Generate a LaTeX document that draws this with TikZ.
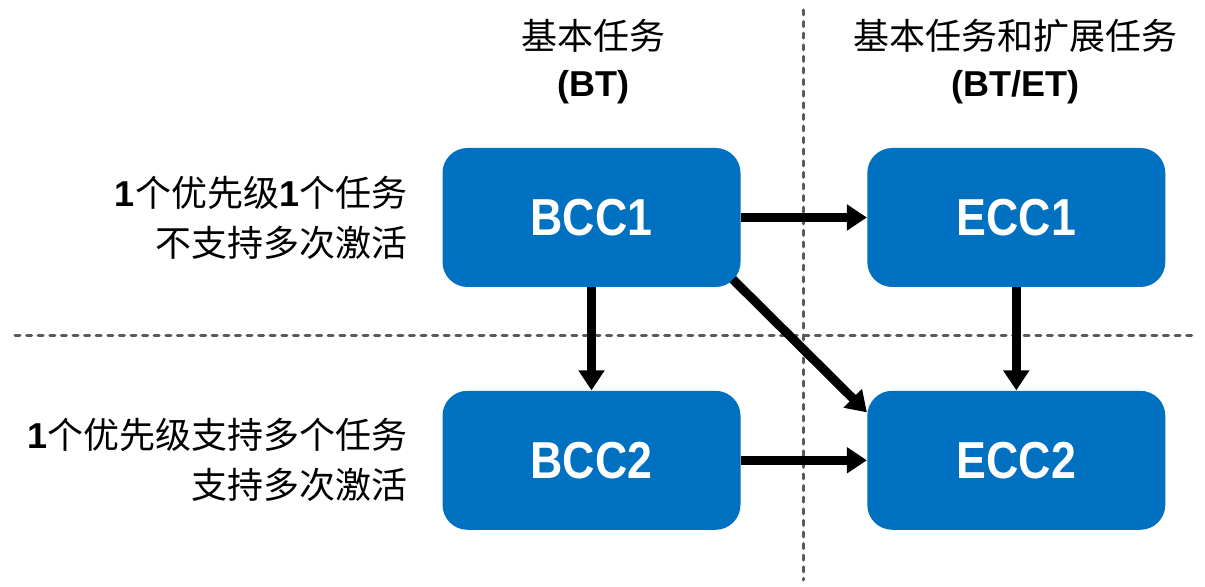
\documentclass[tikz,border=0pt]{standalone}
\usepackage{fontspec}
\setmainfont{Liberation Sans}
\newfontfamily\cjkfont{Noto Sans CJK SC}
\newfontfamily\boxfont[FakeStretch=0.86]{Liberation Sans}
\usetikzlibrary{positioning,arrows.meta,calc}
\definecolor{ccblue}{RGB}{0,112,192}
\definecolor{sepgray}{RGB}{90,90,90}
\newcommand{\bone}{{\normalfont\bfseries 1}}

\begin{document}
\begin{tikzpicture}[
    x=0.5pt, y=-0.5pt,
    node distance=51.5pt and 63pt,
    cc/.style = {fill=ccblue, rounded corners=12.5pt, minimum width=149pt, minimum height=69.5pt,
      text=white, font=\boxfont\bfseries\fontsize{26}{30}\selectfont},
    sep/.style = {draw=sepgray, line width=1.5pt, line cap=round, dash pattern=on 2.5pt off 3.3pt},
    flow/.style = {line width=4.5pt, -{Triangle[length=10pt,width=12.5pt]}},
    head/.style = {align=center, font=\fontsize{18}{23.5}\selectfont},
    side/.style = {align=right, font=\cjkfont\fontsize{18}{25}\selectfont}
  ]
  \useasboundingbox (0,0) rectangle (1205,587);
  % Separators.
  \coordinate (vtop) at (803,10);
  \coordinate (vbot) at (803,580);
  \coordinate (hleft) at (15,336);
  \coordinate (hright) at (1195,336);
  \draw[sep] (vtop) -- (vbot);
  \draw[sep] (hleft) -- (hright);
  % Classes.
  \node[cc] (bcc1) at (591.5,217.5) {BCC1};
  \node[cc, right=of bcc1] (ecc1) {ECC1};
  \node[cc, below=of bcc1] (bcc2) {BCC2};
  \node[cc, below=of ecc1] (ecc2) {ECC2};
  % Headings.
  \node[head] (bthead) at (593,62) {{\cjkfont 基本任务}\\{\bfseries (BT)}};
  \node[head] (ethead) at (1015,62) {{\cjkfont 基本任务和扩展任务}\\{\bfseries (BT/ET)}};
  % Row labels.
  \node[side, left=14pt of bcc1] (row1) {\bone 个优先级\bone 个任务\\不支持多次激活};
  \node[side, left=14pt of bcc2] (row2) {\bone 个优先级支持多个任务\\支持多次激活};

  \draw[flow] (bcc1) -- (ecc1);
  \draw[flow] (bcc1) -- (bcc2);
  \draw[flow] (ecc1) -- (ecc2);
  \draw[flow] (bcc2) -- (ecc2);
  \draw[flow] ($(bcc1.south east)+(-8,-8)$) -- ($(ecc2.north west)+(0,22)$);
\end{tikzpicture}
\end{document}
